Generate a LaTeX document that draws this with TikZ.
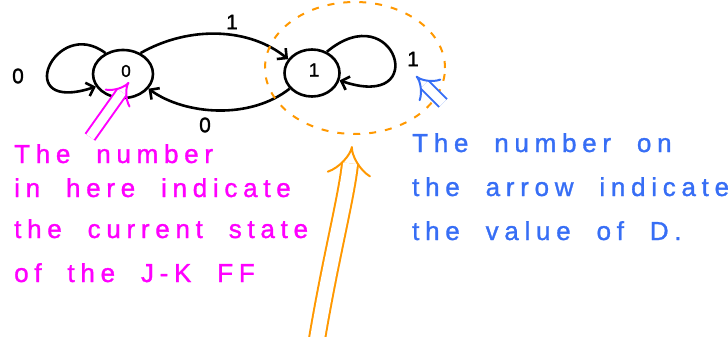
\documentclass[tikz,border=0pt]{standalone}
\usepackage{fontspec}
\setmainfont{Liberation Sans}
\newfontfamily\notefont[LetterSpace=22,WordSpace=2,FakeBold=1.2]{Liberation Sans}
\newfontfamily\lblfont[FakeBold=1.5]{Liberation Sans}
\usetikzlibrary{arrows.meta,shapes.geometric}
\definecolor{myorange}{RGB}{255,152,0}
\definecolor{mymag}{RGB}{255,0,255}
\definecolor{myblue}{RGB}{55,110,245}
\tikzset{
  statebox/.style={draw, ellipse, line width=2.6pt, minimum width=#1, inner sep=0pt},
  edge/.style={line width=2.6pt, -{Straight Barb[length=7pt,width=14pt]}},
  lbl/.style={font=\lblfont\fontsize{21}{21}\selectfont},
  note/.style={anchor=base west, inner sep=0pt, font=\notefont\fontsize{26}{26}\selectfont},
  hint/.style={line width=2pt, double=white, double distance=#1, -{Implies}},
}
\begin{document}
\begin{tikzpicture}[x=1pt,y=-1pt]
\useasboundingbox (0,0) rectangle (728,337);
% states
\node[statebox=60pt, minimum height=48pt] (s0) at (123,74) {};
\node[statebox=55pt, minimum height=47pt] (s1) at (312,73) {};
\node[font=\lblfont\fontsize{17}{17}\selectfont] (t0) at (126,71) {0};
\node[font=\lblfont\fontsize{19}{19}\selectfont] (t1) at (314,70) {1};
% self loops
\draw[edge] (s0.130) .. controls (55,15) and (10,115) .. (s0.205);
\draw[edge] (s1.55) .. controls (395,-5) and (432,112) .. (s1.345);
% arcs
\draw[edge] (s0.50) .. controls (190,25) and (250,28) .. (s1.150);
\draw[edge] (s1.215) .. controls (250,120) and (185,115) .. (s0.330);
% labels
\node[lbl] (l0a) at (18,76) {0};
\node[lbl] (l1a) at (232,22) {1};
\node[lbl] (l0b) at (205,125) {0};
\node[lbl] (l1b) at (413,59) {1};
% highlight
\node[draw=myorange, ellipse, dashed, dash pattern=on 7pt off 9pt, line width=2pt,
      minimum width=180pt, minimum height=132pt] (hl) at (355,68) {};
% pointer arrows
\coordinate (obase) at (316,345);
\coordinate (otip) at (352,146);
\draw[hint=14pt, myorange] (obase) .. controls (330,260) and (346,200) .. (otip);
\coordinate (mbase) at (90,137);
\coordinate (mtip) at (129,82);
\draw[hint=9pt, mymag] (mbase) -- (mtip);
\coordinate (bbase) at (443,103);
\coordinate (btip) at (416,76);
\draw[hint=9pt, myblue] (bbase) -- (btip);
% notes
\node[note, mymag] (m1) at (14,163) {The number};
\node[note, mymag] (m2) at (14,197) {in here indicate};
\node[note, mymag] (m3) at (14,238) {the current state};
\node[note, mymag] (m4) at (14,282) {of the J-K FF};
\node[note, myblue] (b1) at (412,152) {The number on};
\node[note, myblue] (b2) at (412,196) {the arrow indicate};
\node[note, myblue] (b3) at (412,240) {the value of D.};
\end{tikzpicture}
\end{document}
